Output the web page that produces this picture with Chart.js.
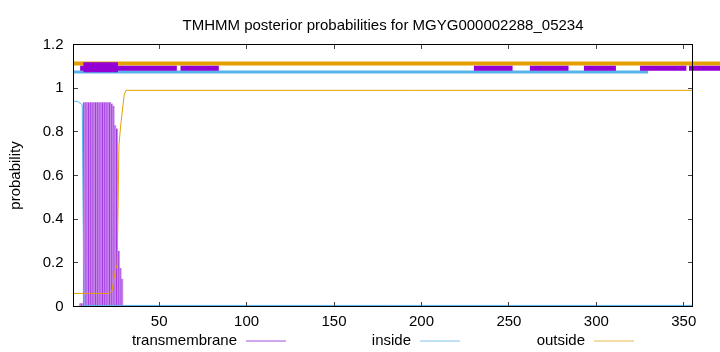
<!DOCTYPE html>
<html>
<head>
  <meta charset="UTF-8">
  <title>TMHMM posterior probabilities for MGYG000002288_05234</title>
  <script src="https://cdn.jsdelivr.net/npm/chart.js"></script>
  <style>
    body {
      margin: 0;
      background: #fff;
    }
    #caixa {
      position: relative;
      width: 720px;
      height: 352px;
    }
    canvas {
      display: block;
    }
    #moldura {
      position: absolute;
      left: 73px;
      top: 44px;
      width: 620px;
      height: 263px;
      box-sizing: border-box;
      border: 1px solid #000;
      pointer-events: none;
    }
  </style>
</head>
<body>
  <div id="caixa">
    <canvas id="grafico" width="720" height="352"></canvas>
    <div id="moldura"></div>
  </div>

  <script>
    // eixo x: posição do resíduo
    const residuoMin = 1;
    const residuoMax = 355;
    const xTicks = [50, 100, 150, 200, 250, 300, 350];
    const yTicks = [0, 0.2, 0.4, 0.6, 0.8, 1, 1.2];

    // transmembrane (impulsos por resíduo)
    const tmResiduos = [5, 6, 7, 8, 9, 10, 11, 12, 13, 14, 15, 16, 17, 18, 19, 20, 21, 22, 23, 24, 25, 26, 27, 28, 29];
    const tmProb = [0.015, 0.015, 0.935, 0.935, 0.935, 0.935, 0.935, 0.935, 0.935, 0.935, 0.935, 0.935, 0.935, 0.935, 0.935, 0.935, 0.935, 0.935, 0.93, 0.92, 0.83, 0.815, 0.255, 0.176, 0.127];

    // inside
    const insideResiduos = [1, 2, 3, 4, 5, 6, 7, 355];
    const insideProb = [0.94, 0.94, 0.94, 0.935, 0.93, 0.924, 0.005, 0.005];

    // outside
    const outsideResiduos = [1, 21, 22, 23, 24, 25, 26, 27, 28, 29, 30, 31, 355];
    const outsideProb = [0.06, 0.06, 0.063, 0.07, 0.12, 0.17, 0.19, 0.74, 0.83, 0.9, 0.97, 0.99, 0.99];

    // faixas de topologia no alto do gráfico
    const outsideFaixa = { inicio: [1], fim: [371], y: 1.113 };
    const insideFaixa = { inicio: [1], fim: [329.5], y: 1.074 };
    const tmFaixa = { inicio: [4.8, 62.2, 230, 262, 292.9, 325, 353], fim: [60.1, 84.1, 252.1, 284.1, 311.2, 351.5, 371], y: 1.091 };
    const tmFaixaGrossa = { inicio: [6.7], fim: [26.4], y: 1.096 };

    const corTM = '#9400d3';
    const corInside = '#56b4e9';
    const corOutside = '#e69f00';
    const fonte = '"Liberation Sans", Arial, sans-serif';

    function pontos(xs, ys) {
      return xs.map((x, i) => ({ x: x, y: ys[i] }));
    }

    function segmentos(f) {
      const out = [];
      f.inicio.forEach((ini, i) => {
        out.push({ x: ini, y: f.y });
        out.push({ x: f.fim[i], y: f.y });
        out.push({ x: f.fim[i], y: null });
      });
      return out;
    }

    function faixa(f, cor, largura, ordem) {
      return {
        type: 'line',
        data: segmentos(f),
        borderColor: cor,
        borderWidth: largura,
        borderCapStyle: 'butt',
        pointRadius: 0,
        spanGaps: false,
        clip: { left: 0, top: 0, bottom: 0, right: 30 },
        order: ordem
      };
    }

    const legenda = [
      { texto: 'transmembrane', fim: 237, cor: '#a64fd9' },
      { texto: 'inside', fim: 411, cor: '#7fc4ec' },
      { texto: 'outside', fim: 585, cor: '#ecb94a' }
    ];

    const decoracao = {
      id: 'decoracao',
      afterDraw(chart) {
        const c = chart.ctx;
        const a = chart.chartArea;
        const sx = chart.scales.x;
        const sy = chart.scales.y;
        const L = Math.floor(a.left), R = Math.floor(a.right);
        const T = Math.floor(a.top), B = Math.floor(a.bottom);
        c.save();

        // moldura
        c.fillStyle = '#000';
        c.fillRect(L, T, R - L + 1, 1);
        c.fillRect(L, B, R - L + 1, 1);
        c.fillRect(L, T, 1, B - T + 1);
        c.fillRect(R, T, 1, B - T + 1);

        // marcas dos eixos (para dentro, espelhadas)
        c.fillStyle = '#444';
        xTicks.forEach(v => {
          const px = Math.floor(sx.getPixelForValue(v));
          c.fillRect(px, B - 4, 1, 4);
          c.fillRect(px, T + 1, 1, 4);
        });
        yTicks.forEach(v => {
          const py = Math.floor(sy.getPixelForValue(v));
          c.fillRect(L + 1, py, 4, 1);
          c.fillRect(R - 4, py, 4, 1);
        });

        // título
        c.fillStyle = '#000';
        c.font = '15px ' + fonte;
        c.textAlign = 'center';
        c.textBaseline = 'alphabetic';
        c.fillText('TMHMM posterior probabilities for MGYG000002288_05234', (a.left + a.right) / 2, 30);

        // título do eixo y
        c.save();
        c.translate(16, (a.top + a.bottom) / 2);
        c.rotate(-Math.PI / 2);
        c.textBaseline = 'middle';
        c.fillText('probability', 0, 0);
        c.restore();

        // legenda: texto e depois a linha
        c.textAlign = 'right';
        c.textBaseline = 'middle';
        legenda.forEach(l => {
          c.fillStyle = '#000';
          c.fillText(l.texto, l.fim, 341);
          c.strokeStyle = l.cor;
          c.lineWidth = 1;
          c.beginPath();
          c.moveTo(l.fim + 9, 341);
          c.lineTo(l.fim + 49, 341);
          c.stroke();
        });
        c.restore();
      }
    };

    let ctx = document.getElementById('grafico').getContext('2d');
    let chart = new Chart(ctx, {
      type: 'line',
      data: {
        datasets: [
          {
            label: 'outside',
            data: pontos(outsideResiduos, outsideProb),
            borderColor: corOutside,
            borderWidth: 1,
            pointRadius: 0,
            order: 1
          },
          {
            label: 'inside',
            data: pontos(insideResiduos, insideProb),
            borderColor: corInside,
            borderWidth: 1,
            pointRadius: 0,
            order: 2
          },
          {
            type: 'bar',
            label: 'transmembrane',
            data: pontos(tmResiduos, tmProb),
            backgroundColor: '#c98cea',
            borderColor: '#9d2ee0',
            borderWidth: { left: 1, top: 0, right: 0, bottom: 0 },
            barPercentage: 1,
            categoryPercentage: 1,
            order: 3
          },
          faixa(tmFaixaGrossa, corTM, 10, 4),
          faixa(tmFaixa, corTM, 5, 5),
          faixa(insideFaixa, corInside, 3, 6),
          faixa(outsideFaixa, corOutside, 4, 7)
        ]
      },
      options: {
        animation: false,
        responsive: false,
        layout: { padding: { top: 44.5, right: 27.5, left: 0, bottom: 0 } },
        plugins: {
          legend: { display: false },
          title: { display: false },
          tooltip: { enabled: false }
        },
        elements: { line: { tension: 0 }, point: { radius: 0 } },
        scales: {
          x: {
            type: 'linear',
            min: residuoMin,
            max: residuoMax,
            offset: false,
            grid: { display: false, drawTicks: false, offset: false },
            border: { display: false },
            ticks: {
              color: '#000',
              padding: 6,
              maxRotation: 0,
              autoSkip: false,
              font: { family: fonte, size: 15 },
              callback: v => String(v)
            },
            afterBuildTicks: s => { s.ticks = xTicks.map(v => ({ value: v })); },
            afterFit: s => { s.height = 45.5; }
          },
          y: {
            min: 0,
            max: 1.2,
            grid: { display: false, drawTicks: false },
            border: { display: false },
            ticks: {
              stepSize: 0.2,
              color: '#000',
              padding: 10,
              font: { family: fonte, size: 15 },
              callback: v => String(Math.round(v * 10) / 10)
            },
            afterFit: s => { s.width = 73.5; }
          }
        }
      },
      plugins: [decoracao]
    });
  </script>
</body>
</html>
